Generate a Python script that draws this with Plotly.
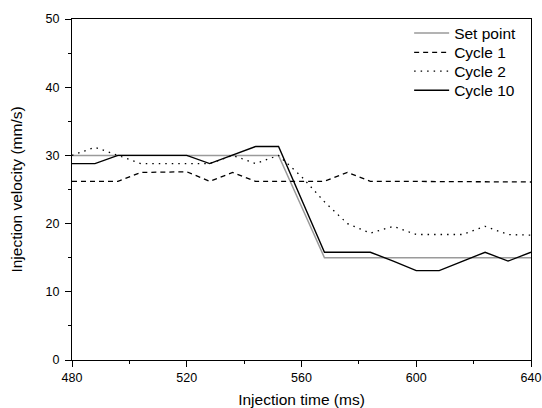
import plotly.graph_objects as go

time_ms = [480, 488, 496, 504, 512, 520, 528, 536, 544, 552, 560,
           568, 576, 584, 592, 600, 608, 616, 624, 632, 640]
set_point = [30, 30, 30, 30, 30, 30, 30, 30, 30, 30, 22.5,
             15, 15, 15, 15, 15, 15, 15, 15, 15, 15]
cycle_1 = [26.2, 26.2, 26.2, 27.5, 27.5, 27.6, 26.2, 27.5, 26.2, 26.2, 26.2,
           26.2, 27.5, 26.2, 26.2, 26.2, 26.2, 26.2, 26.2, 26.2, 26.1]
cycle_2 = [30.0, 31.2, 30.0, 28.8, 28.8, 28.8, 28.8, 30.0, 28.8, 30.0, 26.9,
           23.2, 20.0, 18.6, 19.6, 18.4, 18.4, 18.4, 19.6, 18.4, 18.3]
cycle_10 = [28.8, 28.8, 30.0, 30.0, 30.0, 30.0, 28.8, 30.0, 31.3, 31.3, 23.5,
            15.8, 15.8, 15.8, 14.5, 13.1, 13.1, 14.5, 15.8, 14.5, 15.8]

series_names = ["Set point", "Cycle 1", "Cycle 2", "Cycle 10"]
x_ticks = [480, 520, 560, 600, 640]
y_ticks = [0, 10, 20, 30, 40, 50]

FONT = "Liberation Sans, Arial, sans-serif"

fig = go.Figure()
styles = [
    dict(color="#9a9a9a", width=1.5),
    dict(color="black", width=1.3, dash="5px,4px"),
    dict(color="black", width=1.3, dash="1.5px,5px"),
    dict(color="black", width=1.4),
]
legend_ids = ["legend", "legend2", "legend3", "legend4"]
for name, ys, st, lg in zip(series_names, [set_point, cycle_1, cycle_2, cycle_10],
                            styles, legend_ids):
    fig.add_trace(go.Scatter(x=time_ms, y=ys, name=name, mode="lines",
                             line=st, legend=lg))

axis_common = dict(showgrid=False, zeroline=False, showline=True, linecolor="black",
                   linewidth=1.3, mirror=True, ticks="outside", ticklen=6,
                   tickwidth=1.2, tickcolor="black", ticklabeloverflow="allow",
                   tickfont=dict(family=FONT, size=12.5, color="black"))

fig.update_xaxes(range=[480, 640], tickvals=x_ticks,
                 minor=dict(ticks="outside", ticklen=3, tickwidth=1.2, dtick=20,
                            tickcolor="black"),
                 title=dict(text="Injection time (ms)",
                            font=dict(family=FONT, size=15.5, color="black"),
                            standoff=9),
                 **axis_common)
fig.update_yaxes(range=[0, 50], tickvals=y_ticks, ticklabelstandoff=3,
                 minor=dict(ticks="outside", ticklen=3, tickwidth=1.2, dtick=5,
                            tickcolor="black"),
                 title=dict(text="Injection velocity (mm/s)",
                            font=dict(family=FONT, size=15.5, color="black"),
                            standoff=19),
                 **axis_common)

legend_rows = [0.958, 0.901, 0.846, 0.790]
legend_layout = {}
for lg, yy in zip(legend_ids, legend_rows):
    legend_layout[lg] = dict(x=0.7345, y=yy, xanchor="left", yanchor="middle",
                             bgcolor="rgba(0,0,0,0)", borderwidth=0,
                             font=dict(family=FONT, size=15.5, color="black"),
                             itemwidth=35)

fig.update_layout(
    width=542, height=408,
    margin=dict(l=72, r=10.5, t=19, b=47.5, autoexpand=False),
    paper_bgcolor="white", plot_bgcolor="white",
    font=dict(family=FONT, color="black"),
    showlegend=True,
    **legend_layout,
)

# remove the browser's default 8px body margin so the figure fills the window
fig.write_html("out.html",
               config={"displayModeBar": False},
               post_script="document.body.style.margin='0px';"
                           "document.body.style.overflow='hidden';")
